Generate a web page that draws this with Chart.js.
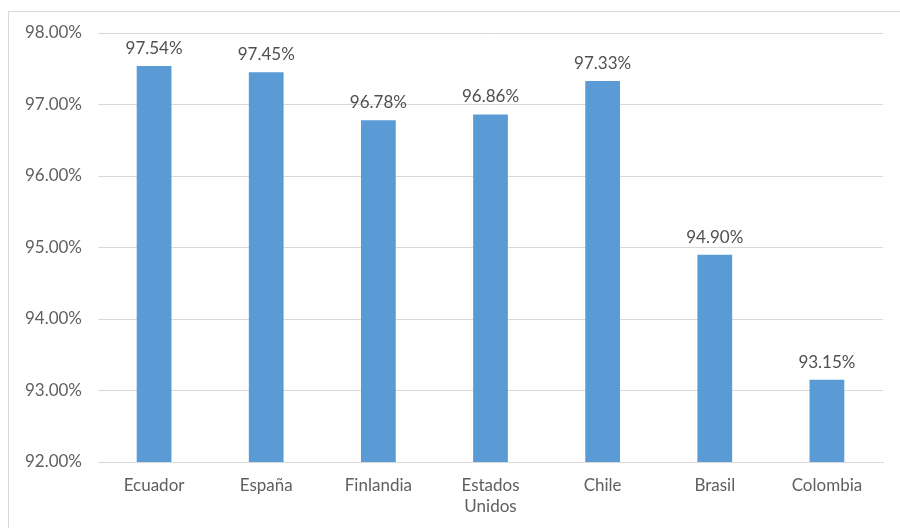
<!DOCTYPE html>
<html>
<head>
<meta charset="utf-8">
<script src="https://cdn.jsdelivr.net/npm/chart.js@4/dist/chart.umd.min.js"></script>
<style>
    html, body { margin: 0; padding: 0; background: #fff; }
    #wrap { position: relative; width: 900px; height: 528px; overflow: hidden; }
    #frame { position: absolute; left: 8px; top: 11px; width: 1000px; height: 1000px;
             border-top: 1px solid #d9d9d9; border-left: 1px solid #d9d9d9; }
    #chart { position: absolute; left: 0; top: 0; }
</style>
</head>
<body>
<div id="wrap">
    <div id="frame"></div>
    <canvas id="chart" width="900" height="528"></canvas>
</div>
<script>
// Values
const countries = ['Ecuador', 'España', 'Finlandia', ['Estados', 'Unidos'], 'Chile', 'Brasil', 'Colombia'];
const rates = [97.54, 97.45, 96.78, 96.86, 97.33, 94.90, 93.15];
const yMin = 92;
const yMax = 98;
const yStep = 1;

const pct = v => Number(v).toFixed(2) + '%';

// Simple plugin to write the value above each bar
const barLabels = {
    id: 'barLabels',
    afterDatasetsDraw(chart) {
        const ctx = chart.ctx;
        const meta = chart.getDatasetMeta(0);
        ctx.save();
        ctx.font = '17px Lato';
        ctx.fillStyle = '#505050';
        ctx.textAlign = 'center';
        ctx.textBaseline = 'bottom';
        meta.data.forEach((bar, i) => {
            ctx.fillText(pct(rates[i]), bar.x, bar.y - 9);
        });
        ctx.restore();
    }
};

const ctx = document.getElementById('chart').getContext('2d');
new Chart(ctx, {
    type: 'bar',
    data: {
        labels: countries,
        datasets: [{
            data: rates,
            backgroundColor: '#5b9bd5',
            categoryPercentage: 1,
            barPercentage: 0.31
        }]
    },
    options: {
        responsive: false,
        animation: false,
        layout: { padding: { top: 33, right: 17, left: 0, bottom: 0 } },
        plugins: {
            legend: { display: false },
            tooltip: { enabled: false }
        },
        scales: {
            x: {
                grid: { display: false },
                border: { color: '#d9d9d9' },
                ticks: {
                    color: '#606060',
                    font: { family: 'Lato', size: 17, lineHeight: 1.25 },
                    padding: 5,
                    maxRotation: 0
                },
                afterFit(scale) { scale.height = 66; }
            },
            y: {
                min: yMin,
                max: yMax,
                grid: { color: '#d9d9d9', drawTicks: false },
                border: { display: false },
                ticks: {
                    stepSize: yStep,
                    color: '#606060',
                    font: { family: 'Lato', size: 17 },
                    padding: 16,
                    callback: v => pct(v)
                },
                afterFit(scale) { scale.width = 98; }
            }
        }
    },
    plugins: [barLabels]
});
</script>
</body>
</html>
